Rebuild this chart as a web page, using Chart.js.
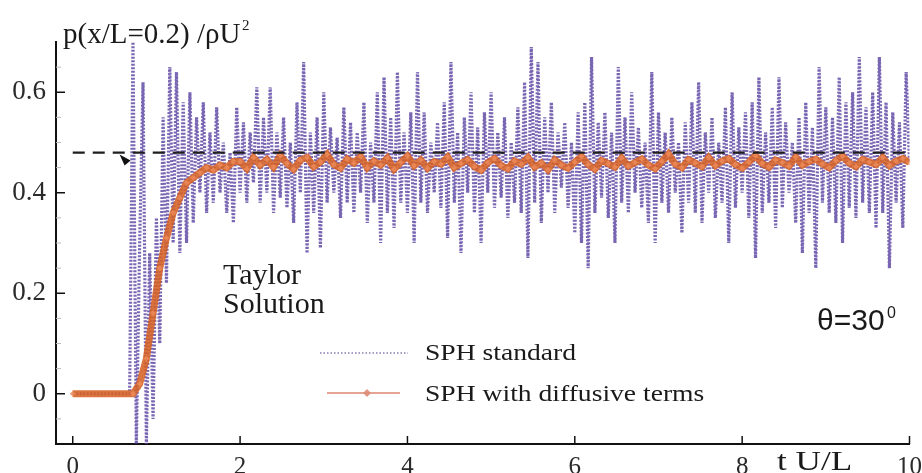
<!DOCTYPE html>
<html>
<head>
<meta charset="utf-8">
<script src="https://cdn.jsdelivr.net/npm/chart.js@4.4.0/dist/chart.umd.min.js"></script>
<style>
  html, body { margin: 0; padding: 0; background: #fff; }
  #wrap { width: 922px; height: 473px; }
</style>
</head>
<body>
<div id="wrap"><canvas id="pressure" width="922" height="473"></canvas></div>
<script>
// time axis t U/L, pressure p/(rho U^2)
const xTicks = [0, 2, 4, 6, 8, 10];
const yTicks = [0, 0.2, 0.4, 0.6];
const yMinorTicks = [-0.05, 0.05, 0.1, 0.15, 0.25, 0.3, 0.35, 0.45, 0.5, 0.55, 0.65];

// Taylor solution (dashed)
const taylorT = [0, 10];
const taylorP = [0.48, 0.48];

// SPH standard: sampled every 0.04 from t = 0.68
const standardStart = 0.68;
const standardStep = 0.04;
const sphStandard = [
  0.00, 0.70, -0.10, 0.30, 0.62, -0.10, 0.28, -0.05, 0.35, 0.10,
  0.55, 0.22, 0.65, 0.30, 0.64, 0.28, 0.58, 0.30, 0.60, 0.34,
  0.55, 0.40, 0.58, 0.36, 0.52, 0.38, 0.57, 0.40, 0.50, 0.36,
  0.48, 0.34, 0.57, 0.40, 0.54, 0.38, 0.52, 0.42, 0.61, 0.38,
  0.55, 0.40, 0.61, 0.36, 0.52, 0.39, 0.55, 0.37, 0.50, 0.34,
  0.58, 0.40, 0.66, 0.28, 0.52, 0.36, 0.55, 0.29, 0.60, 0.38,
  0.53, 0.40, 0.51, 0.35, 0.57, 0.38, 0.54, 0.36, 0.52, 0.40,
  0.58, 0.34, 0.50, 0.38, 0.60, 0.30, 0.63, 0.36, 0.55, 0.33,
  0.64, 0.38, 0.52, 0.36, 0.56, 0.30, 0.64, 0.38, 0.56, 0.36,
  0.50, 0.40, 0.54, 0.37, 0.58, 0.31, 0.66, 0.38, 0.52, 0.28,
  0.55, 0.40, 0.60, 0.36, 0.53, 0.30, 0.56, 0.40, 0.60, 0.37,
  0.52, 0.39, 0.55, 0.35, 0.50, 0.38, 0.57, 0.36, 0.62, 0.27,
  0.69, 0.38, 0.66, 0.34, 0.55, 0.40, 0.58, 0.36, 0.52, 0.41,
  0.54, 0.37, 0.50, 0.32, 0.56, 0.30, 0.58, 0.25, 0.67, 0.36,
  0.54, 0.39, 0.56, 0.35, 0.52, 0.30, 0.65, 0.38, 0.55, 0.36,
  0.60, 0.40, 0.53, 0.37, 0.50, 0.34, 0.64, 0.30, 0.56, 0.38,
  0.52, 0.36, 0.55, 0.40, 0.50, 0.32, 0.54, 0.38, 0.58, 0.36,
  0.62, 0.34, 0.52, 0.40, 0.55, 0.35, 0.50, 0.38, 0.57, 0.30,
  0.60, 0.37, 0.53, 0.40, 0.56, 0.35, 0.58, 0.27, 0.63, 0.36,
  0.52, 0.38, 0.57, 0.33, 0.63, 0.37, 0.54, 0.40, 0.50, 0.34,
  0.55, 0.28, 0.58, 0.36, 0.53, 0.25, 0.65, 0.38, 0.57, 0.36,
  0.55, 0.34, 0.63, 0.30, 0.58, 0.37, 0.60, 0.35, 0.67, 0.38,
  0.57, 0.36, 0.60, 0.33, 0.67, 0.36, 0.58, 0.25, 0.56, 0.38,
  0.54, 0.33, 0.64, 0.46
];

// SPH with diffusive terms: sampled every 0.08 from t = 0.72
const diffusiveStart = 0.72;
const diffusiveStep = 0.08;
const sphDiffusive = [
  0.00, 0.02, 0.07, 0.16, 0.25, 0.31, 0.36, 0.39, 0.42, 0.43,
  0.44, 0.45, 0.445, 0.455, 0.45, 0.462,
  0.462, 0.448, 0.470, 0.455, 0.466, 0.451, 0.474, 0.458, 0.447, 0.465,
  0.470, 0.452, 0.461, 0.476, 0.456, 0.449, 0.467, 0.459, 0.472, 0.450,
  0.463, 0.455, 0.469, 0.447, 0.460, 0.473, 0.454, 0.465, 0.449, 0.462,
  0.457, 0.471, 0.450, 0.458, 0.466, 0.452, 0.445, 0.460, 0.468, 0.454,
  0.448, 0.463, 0.457, 0.470, 0.451, 0.459, 0.446, 0.465, 0.455, 0.449,
  0.461, 0.472, 0.456, 0.447, 0.464, 0.458, 0.451, 0.469, 0.453, 0.460,
  0.467, 0.455, 0.448, 0.462, 0.477, 0.457, 0.450, 0.466, 0.459, 0.452,
  0.470, 0.454, 0.463, 0.468, 0.456, 0.449, 0.461, 0.474, 0.458, 0.451,
  0.465, 0.460, 0.453, 0.471, 0.455, 0.462, 0.467, 0.457, 0.450, 0.464,
  0.473, 0.459, 0.452, 0.466, 0.461, 0.456, 0.470, 0.454, 0.463, 0.468,
  0.460
];

const PURPLE = 'rgba(88, 64, 160, 0.8)';
const ORANGE = 'rgba(214, 98, 38, 0.88)';
const SERIF = '"Liberation Serif", "Times New Roman", serif';
const SANS = '"Liberation Sans", Arial, sans-serif';

// both SPH runs start flat at zero from t = 0
const toPoints = (start, step, vals) =>
  [{x: 0, y: 0}].concat(vals.map((v, i) => ({x: +(start + i * step).toFixed(2), y: v})));

function stretchText(ctx, text, x, y, font, sx) {
  ctx.save();
  ctx.font = font;
  ctx.translate(x, y);
  ctx.scale(sx, 1);
  ctx.fillText(text, 0, 0);
  ctx.restore();
}

// ticks drawn inside the axes, labels and legend as in the figure
const overlay = {
  id: 'overlay',
  afterDraw(chart) {
    const {ctx, chartArea, scales: {x, y}} = chart;
    ctx.save();
    const seg = (x1, y1, x2, y2) => { ctx.beginPath(); ctx.moveTo(x1, y1); ctx.lineTo(x2, y2); ctx.stroke(); };

    ctx.strokeStyle = '#bbb'; ctx.lineWidth = 1;
    yMinorTicks.forEach(v => { const py = y.getPixelForValue(v); seg(chartArea.left, py, chartArea.left + 5, py); });
    ctx.strokeStyle = '#111'; ctx.lineWidth = 1.5;
    yTicks.forEach(v => { const py = y.getPixelForValue(v); seg(chartArea.left, py, chartArea.left + 9, py); });
    xTicks.forEach(v => { const px = x.getPixelForValue(v); seg(px, chartArea.bottom, px, chartArea.bottom - 8); });

    // arrow pointing at the Taylor line
    const ax = x.getPixelForValue(0.56), ay = y.getPixelForValue(0.476);
    ctx.fillStyle = '#111';
    ctx.beginPath(); ctx.moveTo(ax, ay); ctx.lineTo(ax + 11, ay + 6); ctx.lineTo(ax + 5, ay + 11); ctx.closePath(); ctx.fill();

    ctx.fillStyle = '#1a1a1a';
    ctx.textBaseline = 'alphabetic';
    ctx.textAlign = 'left';
    ctx.font = '29px ' + SERIF;
    ctx.fillText('p(x/L=0.2) /\u03c1U', 63, 43);
    ctx.font = '15px ' + SERIF;
    ctx.fillText('2', 242, 30);

    ctx.font = '30px ' + SERIF;
    ctx.fillText('Taylor', 223, 284);
    ctx.fillText('Solution', 223, 313);

    ctx.font = '30px ' + SANS;
    ctx.fillText('\u03b8=30', 817, 330);
    ctx.font = '16px ' + SANS;
    ctx.fillText('0', 887, 318);

    stretchText(ctx, 't U/L', 777, 470, '27px ' + SERIF, 1.3);

    // legend
    ctx.strokeStyle = 'rgba(110, 90, 160, 0.8)'; ctx.lineWidth = 1.5; ctx.setLineDash([1.5, 2]);
    seg(320, 353, 408, 353);
    ctx.setLineDash([]);
    ctx.strokeStyle = 'rgba(222, 140, 120, 0.8)'; ctx.lineWidth = 2;
    seg(327, 393, 400, 393);
    ctx.fillStyle = 'rgba(222, 140, 120, 0.9)';
    ctx.beginPath(); ctx.moveTo(367, 389); ctx.lineTo(371, 393); ctx.lineTo(367, 397); ctx.lineTo(363, 393); ctx.closePath(); ctx.fill();
    ctx.fillStyle = '#1a1a1a';
    stretchText(ctx, 'SPH standard', 425, 360, '24px ' + SERIF, 1.15);
    stretchText(ctx, 'SPH with diffusive terms', 425, 401, '24px ' + SERIF, 1.15);
    ctx.restore();
  }
};

new Chart(document.getElementById('pressure'), {
  type: 'line',
  data: {
    datasets: [
      {
        label: 'Taylor Solution',
        data: taylorT.map((t, i) => ({x: t, y: taylorP[i]})),
        borderColor: '#1e1e1e',
        borderWidth: 2.2,
        borderDash: [12, 8],
        pointRadius: 0
      },
      {
        label: 'SPH with diffusive terms',
        data: toPoints(diffusiveStart, diffusiveStep, sphDiffusive),
        borderColor: ORANGE,
        borderWidth: 7,
        pointStyle: 'rectRot',
        pointRadius: 3,
        pointBackgroundColor: 'rgba(238, 140, 90, 0.8)',
        pointBorderWidth: 0,
        tension: 0
      },
      {
        label: 'SPH standard',
        data: toPoints(standardStart, standardStep, sphStandard),
        borderColor: PURPLE,
        borderWidth: 3.2,
        borderDash: [2, 1.5],
        pointRadius: 0,
        tension: 0
      }
    ]
  },
  options: {
    responsive: false,
    animation: false,
    devicePixelRatio: 1,
    layout: { padding: { top: 42, right: 11, left: 0, bottom: 0 } },
    plugins: { legend: { display: false }, tooltip: { enabled: false } },
    scales: {
      x: {
        type: 'linear',
        min: -0.2,
        max: 10,
        afterBuildTicks: axis => { axis.ticks = xTicks.map(v => ({value: v})); },
        afterFit: axis => { axis.height = 29; },
        grid: { display: false },
        border: { color: '#111', width: 2 },
        ticks: { color: '#2a2a2a', font: { family: SERIF, size: 25 }, padding: 0, maxRotation: 0 }
      },
      y: {
        min: -0.1,
        max: 0.7,
        afterBuildTicks: axis => { axis.ticks = yTicks.map(v => ({value: v})); },
        afterFit: axis => { axis.width = 56; },
        grid: { display: false, drawTicks: false },
        border: { color: '#111', width: 2 },
        ticks: { color: '#2a2a2a', font: { family: SERIF, size: 27 }, padding: 10 }
      }
    }
  },
  plugins: [overlay]
});
</script>
</body>
</html>
